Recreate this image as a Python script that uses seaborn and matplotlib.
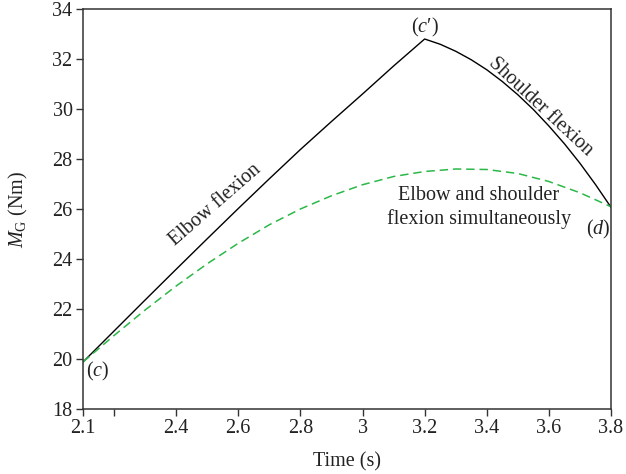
import matplotlib
matplotlib.use("Agg")
import matplotlib.pyplot as plt
import seaborn as sns
import pandas as pd

# ---- data ----
# black curve: elbow flexion (c -> c') then shoulder flexion (c' -> d)
seq_time = [2.1, 2.2, 2.3, 2.4, 2.5, 2.6, 2.7, 2.8, 2.9, 3.0, 3.1, 3.2,
            3.25, 3.3, 3.35, 3.4, 3.45, 3.5, 3.55, 3.6, 3.65, 3.7, 3.75, 3.8]
sequential = [19.88, 21.12, 22.36, 23.59, 24.81, 26.02, 27.21, 28.38, 29.5,
              30.6, 31.72, 32.8,
              32.59, 32.31, 31.97, 31.57, 31.1, 30.57, 29.98, 29.32, 28.61,
              27.83, 26.98, 26.07]
# green dashed curve: elbow and shoulder flexion simultaneously
sim_time = [2.1, 2.2, 2.3, 2.4, 2.5, 2.6, 2.7, 2.8, 2.9, 3.0, 3.1, 3.2,
            3.3, 3.4, 3.5, 3.6, 3.7, 3.8]
simultaneous = [19.88, 20.94, 21.96, 22.92, 23.81, 24.63, 25.37, 26.0, 26.53,
                26.97, 27.3, 27.5, 27.6, 27.58, 27.42, 27.1, 26.65, 26.09]

x_ticks = [2.1, 2.2, 2.4, 2.6, 2.8, 3.0, 3.2, 3.4, 3.6, 3.8]
x_tick_labels = ["2.1", "", "2.4", "2.6", "2.8", "3", "3.2", "3.4", "3.6", "3.8"]
y_ticks = [18, 20, 22, 24, 26, 28, 30, 32, 34]

df_seq = pd.DataFrame({"t": seq_time, "m": sequential})
df_sim = pd.DataFrame({"t": sim_time, "m": simultaneous})

sns.set_theme(style="ticks")
plt.rcParams["font.family"] = ["Liberation Serif", "DejaVu Serif"]
plt.rcParams["mathtext.fontset"] = "custom"
plt.rcParams["mathtext.rm"] = "Liberation Serif"
plt.rcParams["mathtext.it"] = "Liberation Serif:italic"

FS = 14.5
tc = "#222222"

fig = plt.figure(figsize=(6.26, 4.74), dpi=100)
ax = fig.add_axes([83 / 626, 1 - 409 / 474, (611 - 83) / 626, 400 / 474])

sns.lineplot(data=df_seq, x="t", y="m", ax=ax, color="black", linewidth=1.0)
sns.lineplot(data=df_sim, x="t", y="m", ax=ax, color="#2bb848", linewidth=1.1,
             linestyle=(0, (5.5, 3.2)))

ax.set_xlim(2.1, 3.8)
ax.set_ylim(18, 34)
ax.set_xticks(x_ticks)
ax.set_xticklabels(x_tick_labels)
ax.set_yticks(y_ticks)
ax.tick_params(axis="both", direction="out", length=5, width=1.0,
               color="#333333", labelsize=FS, labelcolor=tc, pad=2.5)
for s in ax.spines.values():
    s.set_color("#333333")
    s.set_linewidth(1.1)

ax.set_xlabel("Time (s)", fontsize=FS, color=tc, labelpad=10)
ax.set_ylabel(r"$M_{\mathrm{G}}$ (Nm)", fontsize=FS, color=tc, labelpad=16)

ax.text(2.525, 26.15, "Elbow flexion", rotation=41, fontsize=FS, color=tc,
        ha="center", va="center", rotation_mode="anchor")
ax.text(3.574, 30.1, "Shoulder flexion", rotation=-43, fontsize=FS, color=tc,
        ha="center", va="center", rotation_mode="anchor")
ax.text(3.374, 26.05, "Elbow and shoulder\nflexion simultaneously", fontsize=FS,
        color=tc, ha="center", va="center", linespacing=1.25)
ax.text(3.2, 33.28, "($c$′)", fontsize=FS, color=tc, ha="center", va="center")
ax.text(3.758, 25.2, "($d$)", fontsize=FS, color=tc, ha="center", va="center")
ax.text(2.148, 19.5, "($c$)", fontsize=FS, color=tc, ha="center", va="center")

fig.savefig("out.png", dpi=100)
